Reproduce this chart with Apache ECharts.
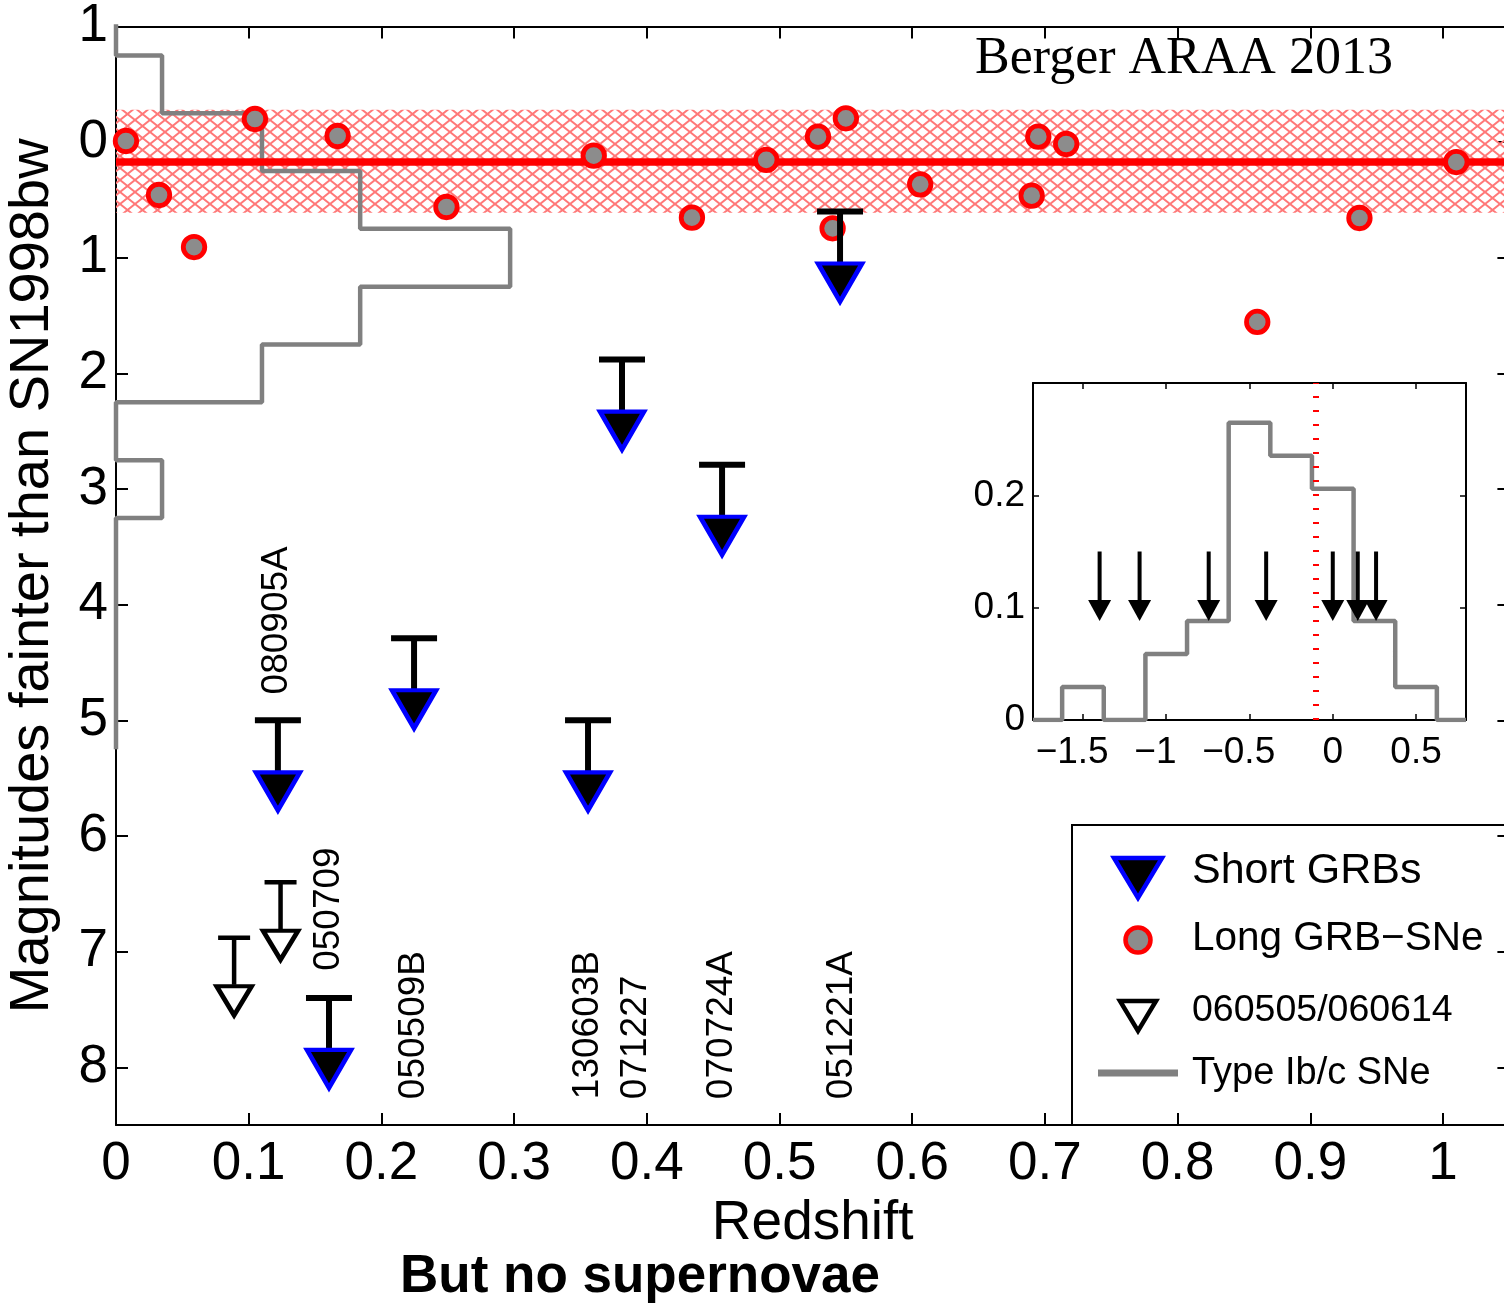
<!DOCTYPE html>
<html><head><meta charset="utf-8">
<script src="https://cdn.jsdelivr.net/npm/echarts@6/dist/echarts.min.js"></script>
<style>html,body{margin:0;padding:0;background:#fff}#c{width:1504px;height:1306px}</style>
</head><body><div id="c"></div>
<script>
// ---------------- data ----------------
const longZ   = [0.0075, 0.0324, 0.0588, 0.1047, 0.167, 0.249, 0.360, 0.434, 0.490, 0.529, 0.540, 0.550, 0.606, 0.690, 0.695, 0.716, 0.860, 0.937, 1.010];
const longMag = [-0.01, 0.457, 0.907, -0.20, -0.053, 0.561, 0.117, 0.653, 0.154, -0.047, 0.745, -0.206, 0.365, 0.463, -0.047, 0.016, 1.555, 0.656, 0.172];

const shortNames = ['080905A', '050709', '050509B', '130603B', '071227', '070724A', '051221A'];
const shortZ     = [0.122, 0.1605, 0.2246, 0.3557, 0.3813, 0.4567, 0.5456];
const shortLimit = [5.0, 7.4, 4.29, 5.0, 1.88, 2.79, 0.6];

const openNames = ['060505', '060614'];
const openZ     = [0.089, 0.124];
const openLimit = [6.88, 6.40];

const labelNames = ['080905A', '050709', '050509B', '130603B', '071227', '070724A', '051221A'];
const labelZ     = [0.1215, 0.161, 0.225, 0.356, 0.392, 0.457, 0.547];
const labelMag   = [4.78, 7.17, 8.28, 8.28, 8.28, 8.28, 8.28];

const meanMag = 0.17, bandLow = -0.28, bandHigh = 0.61;

const ibcBinCenters = [-1, -0.5, 0, 0.5, 1, 1.5, 2, 2.5, 3, 3.5, 4, 4.5, 5];
const ibcHeights    = [0, 0.0347, 0.110, 0.184, 0.297, 0.184, 0.110, 0, 0.0347, 0, 0, 0, 0];
const ibcBinWidth = 0.5;

const insetBinCenters = [-1.5, -1.25, -1, -0.75, -0.5, -0.25, 0, 0.25, 0.5];
const insetFrac       = [0.0294, 0, 0.0588, 0.0882, 0.2647, 0.2353, 0.2059, 0.0882, 0.0294];
const insetBinWidth = 0.25;
const insetArrowX = [-1.40, -1.16, -0.745, -0.40, 0.0, 0.15, 0.26];
const insetArrowTop = 0.15;
const insetMean = -0.1;

const xTicks = [0, 0.1, 0.2, 0.3, 0.4, 0.5, 0.6, 0.7, 0.8, 0.9, 1];
const yTicks = [-1, 0, 1, 2, 3, 4, 5, 6, 7, 8];
const insetXTicks = [-1.5, -1, -0.5, 0, 0.5];
const insetYTicks = [0, 0.1, 0.2];

const legendNames = ['Short GRBs', 'Long GRB\u2212SNe', '060505/060614', 'Type Ib/c SNe'];

// ---------------- helpers ----------------
function stepOutline(centers, heights, w) {
  const pts = [[centers[0] - w / 2, 0]];
  centers.forEach((c, i) => { pts.push([c - w / 2, heights[i]], [c + w / 2, heights[i]]); });
  pts.push([centers[centers.length - 1] + w / 2, 0]);
  return pts;
}
const ibcPts = stepOutline(ibcBinCenters, ibcHeights, ibcBinWidth).map(p => [p[1], p[0]]);
const insetPts = [[-1.8, 0]].concat(stepOutline(insetBinCenters, insetFrac, insetBinWidth), [[0.8, 0]]);

const hatch = document.createElement('canvas');
hatch.width = 15; hatch.height = 12;
const hc = hatch.getContext('2d');
hc.strokeStyle = '#ff7878'; hc.lineWidth = 2.0;
hc.beginPath();
hc.moveTo(-1.5, -1.2); hc.lineTo(16.5, 13.2);
hc.moveTo(16.5, -1.2); hc.lineTo(-1.5, 13.2);
hc.stroke();

const SANS = '"Liberation Sans", Arial, Helvetica, sans-serif';
const SERIF = '"Liberation Serif", "Times New Roman", serif';
const BLACK = '#000';

function mainX(pos, show) {
  return {
    type: 'value', gridIndex: 0, position: pos, min: 0, max: 1.05, interval: 0.1,
    axisLine: { show: true, onZero: false, lineStyle: { color: BLACK, width: 2 } },
    axisTick: { show: true, inside: true, length: 12, customValues: xTicks, lineStyle: { color: BLACK, width: 2 } },
    axisLabel: { show: show, customValues: xTicks, margin: 13, color: BLACK, fontSize: 53, fontFamily: SANS },
    splitLine: { show: false }
  };
}
function mainY(pos, show) {
  return {
    type: 'value', gridIndex: 0, position: pos, min: -1, max: 8.5, interval: 1, inverse: true,
    axisLine: { show: true, onZero: false, lineStyle: { color: BLACK, width: 2 } },
    axisTick: { show: true, inside: true, length: 12, customValues: yTicks, lineStyle: { color: BLACK, width: 2 } },
    axisLabel: { show: show, customValues: yTicks, margin: 8, color: BLACK, fontSize: 53, fontFamily: SANS,
      formatter: v => String(Math.abs(v)) },
    splitLine: { show: false }
  };
}
function insetX(pos, show) {
  return {
    type: 'value', gridIndex: 1, position: pos, min: -1.8, max: 0.8,
    axisLine: { show: true, onZero: false, lineStyle: { color: BLACK, width: 2 } },
    axisTick: { show: true, inside: true, length: 6, customValues: insetXTicks, lineStyle: { color: BLACK, width: 1.5 } },
    axisLabel: { show: show, customValues: insetXTicks, margin: 14, color: BLACK, fontSize: 37, fontFamily: SANS,
      formatter: v => (v < 0 ? '\u2212' + Math.abs(v) + '{h|\u2212}' : String(v)),
      rich: { h: { color: 'rgba(0,0,0,0)', fontSize: 37, fontFamily: SANS } } },
    splitLine: { show: false }
  };
}
function insetY(pos, show) {
  return {
    type: 'value', gridIndex: 1, position: pos, min: 0, max: 0.3, interval: 0.1,
    axisLine: { show: true, onZero: false, lineStyle: { color: BLACK, width: 2 } },
    axisTick: { show: true, inside: true, length: 6, customValues: insetYTicks, lineStyle: { color: BLACK, width: 1.5 } },
    axisLabel: { show: show, customValues: insetYTicks, margin: 8, color: BLACK, fontSize: 37, fontFamily: SANS },
    splitLine: { show: false }
  };
}

const shortData = shortZ.map((z, i) => ({ name: shortNames[i], value: [z, shortLimit[i]] }));
const openData = openZ.map((z, i) => ({ name: openNames[i], value: [z, openLimit[i]] }));
const longData = longZ.map((z, i) => [z, longMag[i]]);
const labelData = labelZ.map((z, i) => ({ name: labelNames[i], value: [z, labelMag[i]] }));
const arrowData = insetArrowX.map(x => [x, insetArrowTop]);

const legendX = 1072, legendY = 825;
function legendText(i, dy, size) {
  return { type: 'text', z: -1, x: legendX + 120, y: legendY + dy,
    style: { text: legendNames[i], fill: BLACK, font: size + 'px ' + SANS, textVerticalAlign: 'middle' } };
}

const option = {
  animation: false,
  backgroundColor: '#fff',
  title: [
    { text: 'Berger ARAA 2013', left: 975, top: 33, padding: 0,
      textStyle: { fontFamily: SERIF, fontSize: 52, fontWeight: 'normal', color: BLACK } },
    { text: 'But no supernovae', left: 400, top: 1251, padding: 0,
      textStyle: { fontFamily: SANS, fontSize: 53, fontWeight: 'bold', color: BLACK } }
  ],
  grid: [
    { left: 116, top: 26.5, width: 1393.4, height: 1098.6, containLabel: false, outerBoundsMode: 'none' },
    { left: 1033, top: 383, width: 433, height: 337, containLabel: false, outerBoundsMode: 'none' }
  ],
  xAxis: [
    Object.assign(mainX('bottom', true), { name: 'Redshift', nameLocation: 'middle', nameGap: 64,
      nameTextStyle: { fontSize: 55, fontFamily: SANS, color: BLACK } }),
    mainX('top', false),
    insetX('bottom', true),
    insetX('top', false)
  ],
  yAxis: [
    Object.assign(mainY('left', true), { name: 'Magnitudes fainter than SN1998bw', nameLocation: 'middle', nameGap: 55,
      nameTextStyle: { fontSize: 56, fontFamily: SANS, color: BLACK } }),
    mainY('right', false),
    insetY('left', true),
    insetY('right', false)
  ],
  graphic: [
    { type: 'rect', z: -1, shape: { x: legendX, y: legendY, width: 460, height: 300 },
      style: { fill: '#fff', stroke: BLACK, lineWidth: 2 } },
    { type: 'polygon', z: -1, shape: { points: [[legendX + 42, legendY + 33], [legendX + 90, legendY + 33], [legendX + 66, legendY + 73]] },
      style: { fill: BLACK, stroke: '#0000ff', lineWidth: 4.5, lineJoin: 'miter' } },
    { type: 'circle', z: -1, shape: { cx: legendX + 66, cy: legendY + 115, r: 12.5 },
      style: { fill: '#8c8c8c', stroke: '#ff0000', lineWidth: 4.5 } },
    { type: 'polygon', z: -1, shape: { points: [[legendX + 48, legendY + 176], [legendX + 84, legendY + 176], [legendX + 66, legendY + 206]] },
      style: { fill: '#fff', stroke: BLACK, lineWidth: 4.5, lineJoin: 'miter' } },
    { type: 'line', z: -1, shape: { x1: legendX + 26, y1: legendY + 248, x2: legendX + 106, y2: legendY + 248 },
      style: { stroke: '#808080', lineWidth: 7 } },
    legendText(0, 46, 43),
    legendText(1, 114, 40.5),
    legendText(2, 186, 37.5),
    legendText(3, 249, 38)
  ],
  series: [
    { type: 'line', name: 'band', xAxisIndex: 0, yAxisIndex: 0, data: [], silent: true, z: 1,
      markArea: { silent: true, itemStyle: { color: { image: hatch, repeat: 'repeat' }, opacity: 1 },
        data: [[{ yAxis: bandLow }, { yAxis: bandHigh }]] },
      markLine: { silent: true, symbol: ['none', 'none'], label: { show: false },
        lineStyle: { color: '#ff0000', width: 7.5, type: 'solid' }, data: [{ yAxis: meanMag }] } },
    { type: 'line', name: 'Type Ib/c SNe', xAxisIndex: 0, yAxisIndex: 0, data: ibcPts, showSymbol: false, symbol: 'none',
      lineStyle: { color: '#808080', width: 4.5 }, z: 4, silent: true },
    { type: 'scatter', name: 'Long GRB-SNe', xAxisIndex: 0, yAxisIndex: 0, data: longData, symbol: 'circle', symbolSize: 21.5,
      itemStyle: { color: '#8c8c8c', borderColor: '#ff0000', borderWidth: 4.8, opacity: 1 }, z: 6 },
    { type: 'scatter', name: 'Short GRB stems', xAxisIndex: 0, yAxisIndex: 0, data: shortData, symbol: 'rect',
      symbolSize: [6, 52], symbolOffset: [0, 26], itemStyle: { color: BLACK, opacity: 1 }, z: 7, silent: true },
    { type: 'scatter', name: 'Short GRB limits', xAxisIndex: 0, yAxisIndex: 0, data: shortData, symbol: 'rect',
      symbolSize: [46, 6], itemStyle: { color: BLACK, opacity: 1 }, z: 7, silent: true },
    { type: 'scatter', name: 'Short GRBs', xAxisIndex: 0, yAxisIndex: 0, data: shortData, symbol: 'triangle',
      symbolRotate: 180, symbolSize: [44, 38], symbolOffset: [0, 71],
      itemStyle: { color: BLACK, borderColor: '#0000ff', borderWidth: 4.5, borderJoin: 'miter', opacity: 1 }, z: 8 },
    { type: 'scatter', name: '060505/060614 stems', xAxisIndex: 0, yAxisIndex: 0, data: openData, symbol: 'rect',
      symbolSize: [4.5, 47], symbolOffset: [0, 23.5], itemStyle: { color: BLACK, opacity: 1 }, z: 7, silent: true },
    { type: 'scatter', name: '060505/060614 limits', xAxisIndex: 0, yAxisIndex: 0, data: openData, symbol: 'rect',
      symbolSize: [32, 4.5], itemStyle: { color: BLACK, opacity: 1 }, z: 7, silent: true },
    { type: 'scatter', name: '060505/060614', xAxisIndex: 0, yAxisIndex: 0, data: openData, symbol: 'triangle',
      symbolRotate: 180, symbolSize: [35, 29], symbolOffset: [0, 63],
      itemStyle: { color: '#fff', borderColor: BLACK, borderWidth: 4.5, borderJoin: 'miter', opacity: 1 }, z: 8 },
    { type: 'scatter', name: 'GRB names', xAxisIndex: 0, yAxisIndex: 0, data: labelData, symbolSize: 1,
      itemStyle: { color: 'rgba(255,255,255,0)' }, silent: true, z: 9,
      label: { show: true, formatter: '{b}', position: [0, 0], align: 'left', verticalAlign: 'middle', rotate: 90,
        color: BLACK, opacity: 1, textBorderWidth: 0, fontSize: 37, fontFamily: SANS } },
    // inset
    { type: 'line', name: 'inset histogram', xAxisIndex: 2, yAxisIndex: 2, data: insetPts, showSymbol: false, symbol: 'none',
      lineStyle: { color: '#808080', width: 4.5 }, z: 4, silent: true,
      markLine: { silent: true, symbol: ['none', 'none'], label: { show: false },
        lineStyle: { color: '#ff0000', width: 6, type: [2, 12] }, data: [{ xAxis: insetMean }] } },
    { type: 'scatter', name: 'inset arrow stems', xAxisIndex: 2, yAxisIndex: 2, data: arrowData, symbol: 'rect',
      symbolSize: [4, 50], symbolOffset: [0, 25], itemStyle: { color: BLACK, opacity: 1 }, z: 7, silent: true },
    { type: 'scatter', name: 'inset arrows', xAxisIndex: 2, yAxisIndex: 2, data: arrowData, symbol: 'triangle',
      symbolRotate: 180, symbolSize: [23, 21], symbolOffset: [0, 59], itemStyle: { color: BLACK, opacity: 1 }, z: 7, silent: true }
  ]
};

const chart = echarts.init(document.getElementById('c'), null, { renderer: 'canvas' });
chart.setOption(option);
</script>
</body></html>
